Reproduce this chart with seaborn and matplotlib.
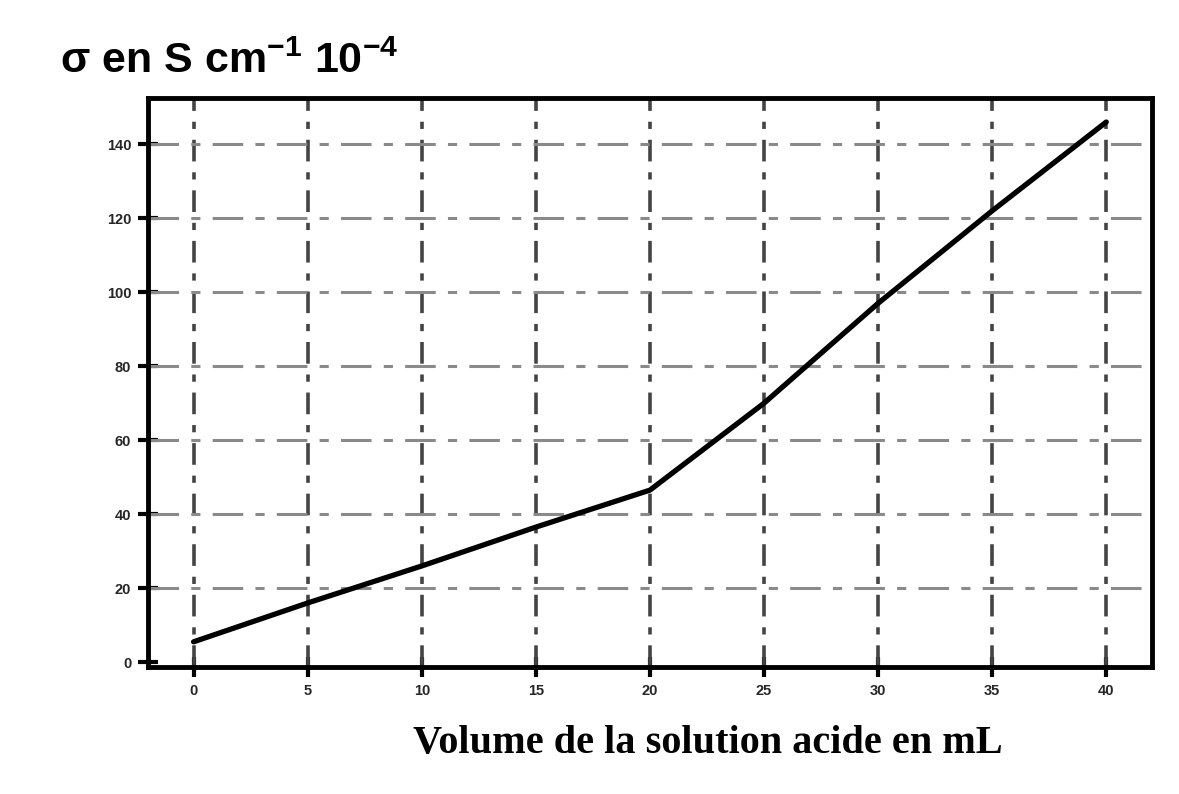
import matplotlib
matplotlib.use("Agg")
import matplotlib.pyplot as plt
import pandas as pd
import seaborn as sns

# volume of acid solution added (mL) and conductivity
volume = [0, 5, 10, 15, 20, 25, 30, 35, 40]
sigma = [5.5, 16, 26, 36.5, 46.5, 70, 97, 122, 146]

x_ticks = [0, 5, 10, 15, 20, 25, 30, 35, 40]
y_ticks = [0, 20, 40, 60, 80, 100, 120, 140]

df = pd.DataFrame({"volume": volume, "sigma": sigma})

sns.set_theme(style="white")
plt.rcParams['font.family'] = ['Liberation Sans', 'DejaVu Sans']
plt.rcParams['mathtext.fontset'] = 'custom'
plt.rcParams['mathtext.rm'] = 'Liberation Sans'
plt.rcParams['mathtext.bf'] = 'Liberation Sans:bold'

fig = plt.figure(figsize=(11.79, 7.94), dpi=100)
ax = fig.add_axes([0.1255, 0.160, 0.8515, 0.7166])

# grid: darker dash-dot verticals, lighter dashed horizontals
for xv in x_ticks:
    ax.axvline(xv, color="#444444", lw=2.6, ls=(0, (6, 3, 2, 3)), zorder=1)
for yv in y_ticks[1:]:
    ax.axhline(yv, color="#8a8a8a", lw=2.2, ls=(0, (10, 4, 3, 4)), zorder=1)

sns.lineplot(data=df, x="volume", y="sigma", color="black", lw=3.8, ax=ax, zorder=3)

ax.set_xlim(-2, 42)
ax.set_ylim(-1.3, 152.5)
ax.set_xticks(x_ticks)
ax.set_yticks(y_ticks)
ax.set_xticklabels([str(v) for v in x_ticks], fontsize=10.5, fontweight="black")
ax.set_yticklabels([str(v) for v in y_ticks], fontsize=10.5, fontweight="black")
ax.tick_params(axis="both", which="major", bottom=True, left=True,
               direction="inout", length=14, width=3, color="black", pad=5)

for side in ax.spines.values():
    side.set_color("black")
    side.set_linewidth(3.5)

ax.set_xlabel("")
ax.set_ylabel("")

fig.text(0.051, 0.908, r"σ en S cm$^{\mathbf{-1}}$ 10$^{\mathbf{-4}}$", fontsize=31,
         fontweight="bold", ha="left", va="baseline", color="black")
fig.text(0.600, 0.052, "Volume de la solution acide en mL", fontsize=29,
         fontweight="bold", family=["Liberation Serif", "DejaVu Serif"],
         ha="center", va="baseline", color="black")

fig.savefig("out.png", dpi=100)
